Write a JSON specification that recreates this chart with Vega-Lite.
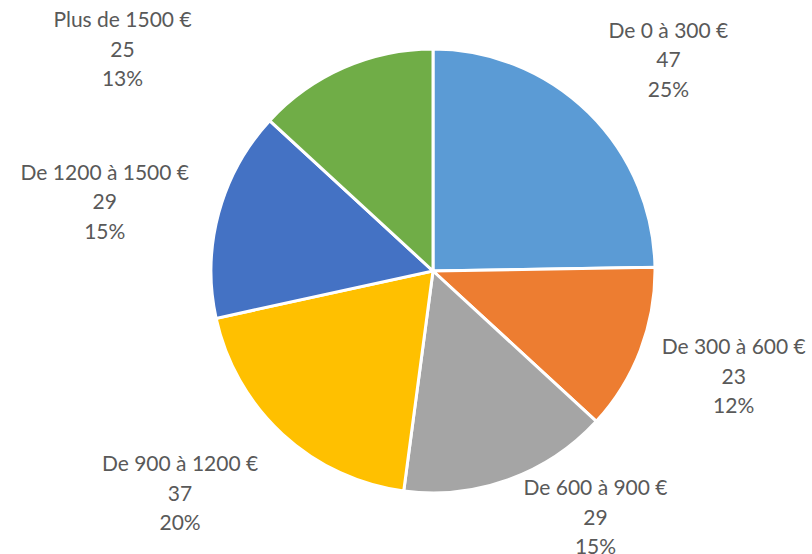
{
  "$schema": "https://vega.github.io/schema/vega-lite/v6.json",
  "autosize": "none",
  "width": 758,
  "height": 542,
  "padding": {"left": 54, "top": 0, "right": 0, "bottom": 12},
  "background": "white",
  "config": {"view": {"stroke": null}},
  "data": {
    "values": [
      {"idx": 1, "category": "De 0 à 300 €", "value": 47, "pct": "25%"},
      {"idx": 2, "category": "De 300 à 600 €", "value": 23, "pct": "12%"},
      {"idx": 3, "category": "De 600 à 900 €", "value": 29, "pct": "15%"},
      {"idx": 4, "category": "De 900 à 1200 €", "value": 37, "pct": "20%"},
      {"idx": 5, "category": "De 1200 à 1500 €", "value": 29, "pct": "15%"},
      {"idx": 6, "category": "Plus de 1500 €", "value": 25, "pct": "13%"}
    ]
  },
  "transform": [
    {"stack": "value", "groupby": [], "sort": [{"field": "idx", "order": "ascending"}], "as": ["v0", "v1"]},
    {"calculate": "(datum.v0 + datum.v1) / 2", "as": "mid"},
    {"calculate": "datum.category + '\\n' + datum.value + '\\n' + datum.pct", "as": "label"}
  ],
  "layer": [
    {
      "mark": {"type": "arc", "outerRadius": 222, "stroke": "white", "strokeWidth": 3},
      "encoding": {
        "theta": {"field": "v0", "type": "quantitative", "scale": {"domain": [0, 190]}},
        "theta2": {"field": "v1"},
        "color": {
          "field": "category", "type": "nominal", "legend": null,
          "scale": {
            "domain": ["De 0 à 300 €", "De 300 à 600 €", "De 600 à 900 €", "De 900 à 1200 €", "De 1200 à 1500 €", "Plus de 1500 €"],
            "range": ["#5B9BD5", "#ED7D31", "#A5A5A5", "#FFC000", "#4472C4", "#70AD47"]
          }
        }
      }
    },
    {
      "transform": [{"filter": "datum.idx == 1"}],
      "mark": {"type": "text", "radius": 310, "dx": 18, "dy": -18, "font": "Lato", "fontSize": 21, "lineHeight": 29.5, "lineBreak": "\n", "color": "#595959", "align": "center", "baseline": "middle"},
      "encoding": {"theta": {"field": "mid", "type": "quantitative"}, "text": {"field": "label"}}
    },
    {
      "transform": [{"filter": "datum.idx == 2"}],
      "mark": {"type": "text", "radius": 310, "dx": 11, "dy": -33, "font": "Lato", "fontSize": 21, "lineHeight": 29.5, "lineBreak": "\n", "color": "#595959", "align": "center", "baseline": "middle"},
      "encoding": {"theta": {"field": "mid", "type": "quantitative"}, "text": {"field": "label"}}
    },
    {
      "transform": [{"filter": "datum.idx == 3"}],
      "mark": {"type": "text", "radius": 310, "dx": 57, "dy": -73, "font": "Lato", "fontSize": 21, "lineHeight": 29.5, "lineBreak": "\n", "color": "#595959", "align": "center", "baseline": "middle"},
      "encoding": {"theta": {"field": "mid", "type": "quantitative"}, "text": {"field": "label"}}
    },
    {
      "transform": [{"filter": "datum.idx == 4"}],
      "mark": {"type": "text", "radius": 310, "dx": -43, "dy": -34, "font": "Lato", "fontSize": 21, "lineHeight": 29.5, "lineBreak": "\n", "color": "#595959", "align": "center", "baseline": "middle"},
      "encoding": {"theta": {"field": "mid", "type": "quantitative"}, "text": {"field": "label"}}
    },
    {
      "transform": [{"filter": "datum.idx == 5"}],
      "mark": {"type": "text", "radius": 310, "dx": -29, "dy": -16, "font": "Lato", "fontSize": 21, "lineHeight": 29.5, "lineBreak": "\n", "color": "#595959", "align": "center", "baseline": "middle"},
      "encoding": {"theta": {"field": "mid", "type": "quantitative"}, "text": {"field": "label"}}
    },
    {
      "transform": [{"filter": "datum.idx == 6"}],
      "mark": {"type": "text", "radius": 310, "dx": -186, "dy": 34, "font": "Lato", "fontSize": 21, "lineHeight": 29.5, "lineBreak": "\n", "color": "#595959", "align": "center", "baseline": "middle"},
      "encoding": {"theta": {"field": "mid", "type": "quantitative"}, "text": {"field": "label"}}
    }
  ]
}
